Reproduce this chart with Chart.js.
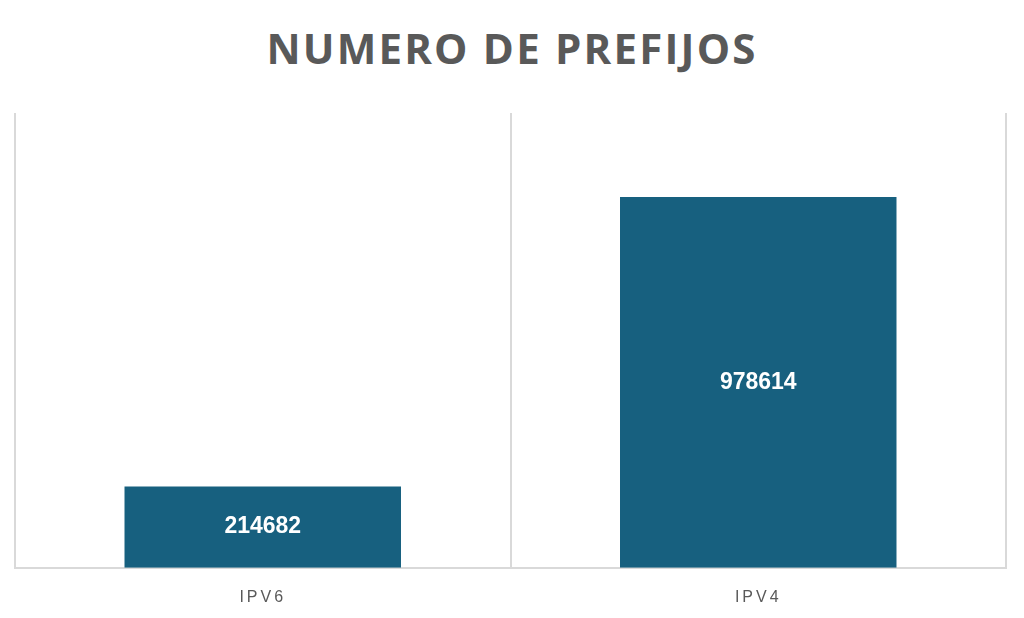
<!DOCTYPE html>
<html>
<head>
<meta charset="utf-8">
<script src="https://cdn.jsdelivr.net/npm/chart.js@4/dist/chart.umd.min.js"></script>
<style>
    html, body { margin: 0; padding: 0; background: #fff; }
    #wrap { position: relative; width: 1024px; height: 618px; }
    #title {
        position: absolute; left: 0; top: 19px; width: 1024px;
        text-align: center; margin: 0;
        font-family: "Open Sans", sans-serif; font-weight: 700;
        font-size: 42px; letter-spacing: 2.2px; color: #595959;
    }
    canvas { position: absolute; left: 0; top: 0; }
</style>
</head>
<body>
<div id="wrap">
    <h1 id="title">NUMERO DE PREFIJOS</h1>
    <canvas id="prefixChart" width="1024" height="618"></canvas>
</div>
<script>
// datos
const categories = ["IPV6", "IPV4"];
const prefixCounts = [214682, 978614];

// etiquetas dentro de las barras
const barLabels = {
    id: "barLabels",
    afterDatasetsDraw(chart) {
        const ctx = chart.ctx;
        const meta = chart.getDatasetMeta(0);
        ctx.save();
        ctx.letterSpacing = "0px";
        ctx.fillStyle = "#ffffff";
        ctx.font = "bold 23px 'Liberation Sans', Arial, sans-serif";
        ctx.textAlign = "center";
        ctx.textBaseline = "middle";
        meta.data.forEach((bar, i) => {
            const yMid = (bar.y + bar.base) / 2;
            ctx.fillText(String(prefixCounts[i]), bar.x, yMid);
        });
        ctx.restore();
    }
};

// espaciado de letras para las etiquetas del eje
const spacedTicks = {
    id: "spacedTicks",
    beforeDraw(chart) {
        chart.ctx.letterSpacing = "3px";
    }
};

new Chart(document.getElementById("prefixChart"), {
    type: "bar",
    data: {
        labels: categories,
        datasets: [{
            data: prefixCounts,
            backgroundColor: "#17607f",
            barPercentage: 0.558,
            categoryPercentage: 1
        }]
    },
    options: {
        responsive: false,
        animation: false,
        events: [],
        layout: { padding: { top: 113, left: 15, right: 18, bottom: -9 } },
        plugins: {
            legend: { display: false },
            tooltip: { enabled: false }
        },
        scales: {
            x: {
                offset: true,
                grid: {
                    offset: true,
                    color: "#d9d9d9",
                    lineWidth: 2,
                    drawTicks: false
                },
                border: { color: "#d9d9d9", width: 2 },
                ticks: {
                    color: "#595959",
                    padding: 20,
                    font: { family: "'Liberation Sans', Arial, sans-serif", size: 16 }
                }
            },
            y: {
                display: false,
                min: 0,
                max: 1200000
            }
        }
    },
    plugins: [spacedTicks, barLabels]
});
</script>
</body>
</html>
